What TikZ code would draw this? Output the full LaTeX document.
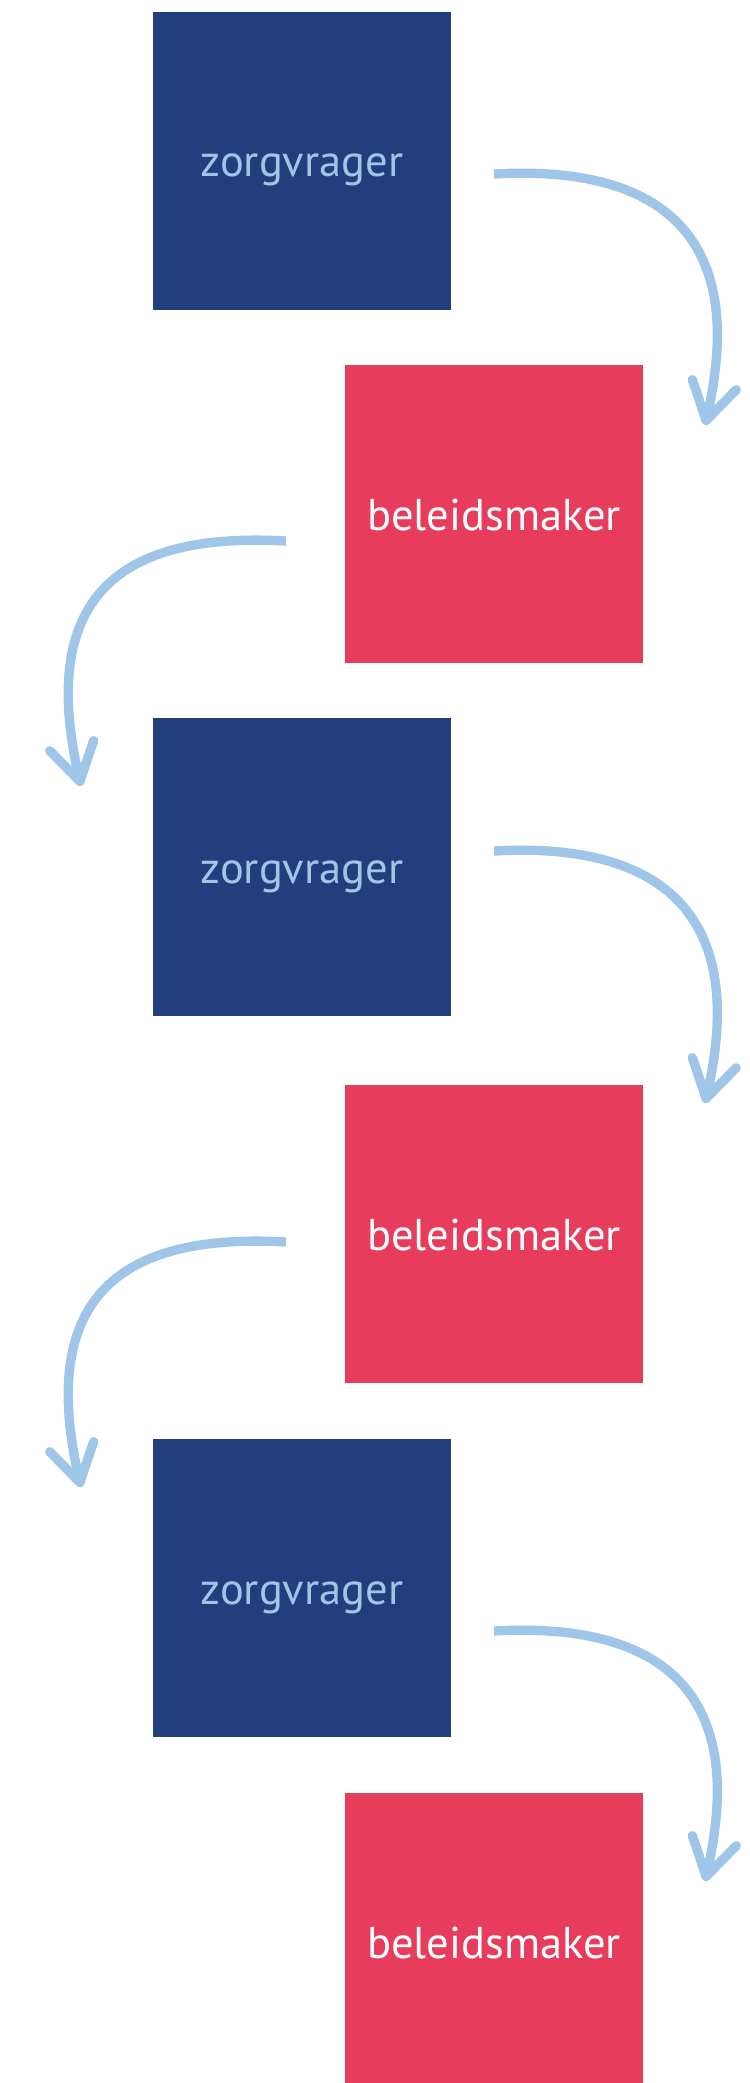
\documentclass[tikz,border=0pt]{standalone}
\usepackage{fontspec}
\usepackage{tikz}
\usetikzlibrary{arrows.meta}
\newfontfamily\boxfont{PT Sans}
\definecolor{zorgblue}{RGB}{34,62,124}
\definecolor{beleidred}{RGB}{231,60,92}
\definecolor{pijlblue}{RGB}{159,197,232}

\begin{document}
\begin{tikzpicture}[x=0.03cm,y=-0.03cm,
    >={Straight Barb[length=1.1cm,width=1.35cm,round]},
    box/.style={minimum size=8.93cm,inner sep=0pt,text height=0.96cm,text depth=0pt,
      font=\boxfont\fontsize{38}{40}\selectfont},
    zorg/.style={box,fill=zorgblue,text=pijlblue},
    beleid/.style={box,fill=beleidred,text=white},
    flow/.style={->,draw=pijlblue,line width=0.28cm}]
  \useasboundingbox (0,0) rectangle (749,2083);
  \clip (0,0) rectangle (749,2083);

  \node[zorg]   (z1) at (302,161)  {zorgvrager};
  \node[beleid] (b1) at (494,514)  {beleidsmaker};
  \node[zorg]   (z2) at (302,867)  {zorgvrager};
  \node[beleid] (b2) at (494,1234) {beleidsmaker};
  \node[zorg]   (z3) at (302,1588) {zorgvrager};
  \node[beleid] (b3) at (494,1942) {beleidsmaker};

  \coordinate (s1) at (494,174);  \coordinate (t1) at (705,425);
  \coordinate (s2) at (286,541);  \coordinate (t2) at (81,786);
  \coordinate (s3) at (494,851);  \coordinate (t3) at (705,1103);
  \coordinate (s4) at (286,1242); \coordinate (t4) at (81,1487);
  \coordinate (s5) at (494,1631); \coordinate (t5) at (705,1881);

  \draw[flow] (s1) .. controls +(160,-9) and +(45,-195) .. (t1);
  \draw[flow] (s2) .. controls +(-160,-9) and +(-45,-195) .. (t2);
  \draw[flow] (s3) .. controls +(160,-9) and +(45,-195) .. (t3);
  \draw[flow] (s4) .. controls +(-160,-9) and +(-45,-195) .. (t4);
  \draw[flow] (s5) .. controls +(160,-9) and +(45,-195) .. (t5);
\end{tikzpicture}
\end{document}
